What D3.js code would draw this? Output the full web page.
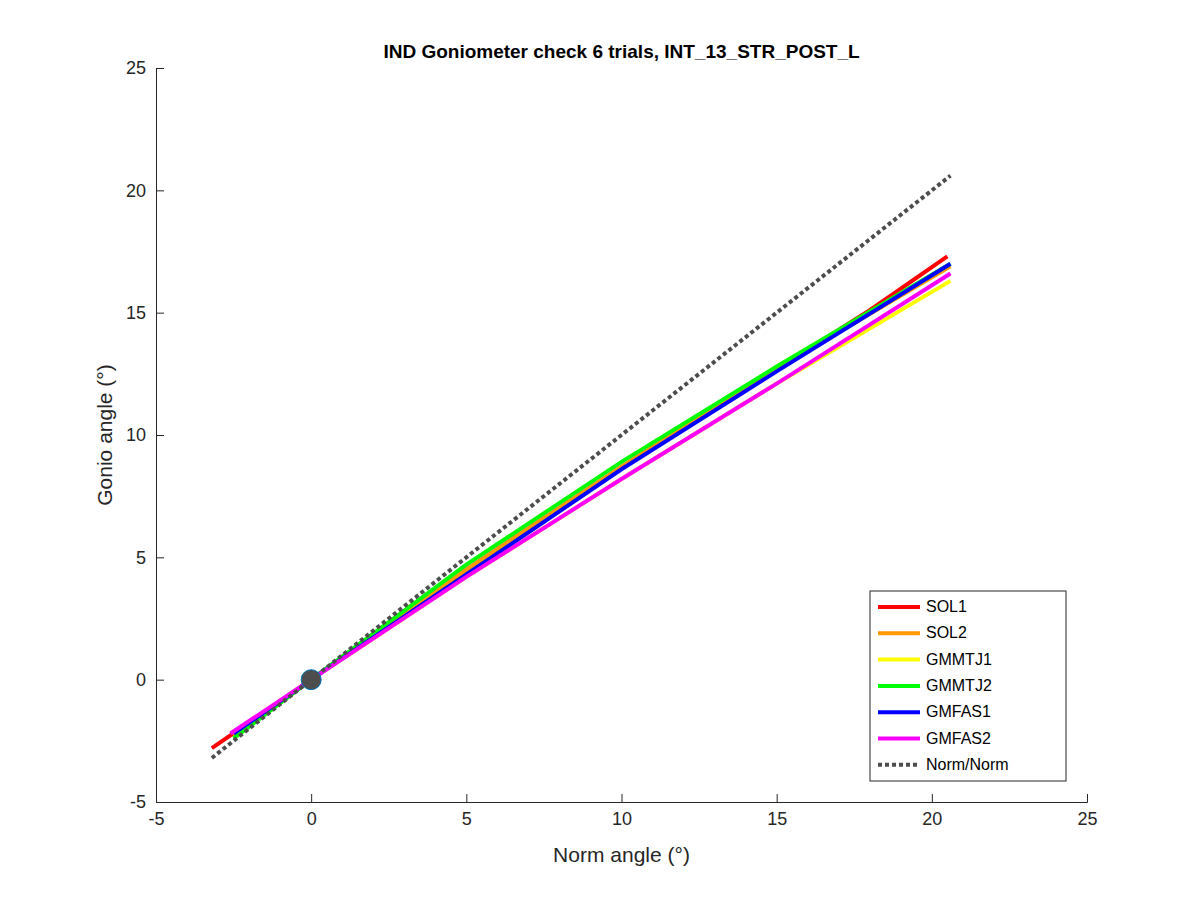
<!DOCTYPE html>
<html><head><meta charset="utf-8">
<script src="https://cdn.jsdelivr.net/npm/d3@7"></script>
<style>body{margin:0;background:#fff;font-family:Arial,"Liberation Sans",sans-serif;}</style>
</head><body><div id="chart"></div>
<script>
const seriesNames = ['SOL1', 'SOL2', 'GMMTJ1', 'GMMTJ2', 'GMFAS1', 'GMFAS2'];
const seriesColors = ['#ff0000', '#ff9900', '#ffff00', '#00ff00', '#0000ff', '#ff00ff'];
const sol1 = [[-3.2, -2.8], [0, 0], [5, 4.5], [10, 8.7], [15, 12.7], [18, 15.1], [20.5, 17.3]];
const sol2 = [[-2.5, -2.3], [0, 0], [5, 4.5], [10, 8.7], [15, 12.7], [20.6, 16.9]];
const gmmtj1 = [[-2.5, -2.2], [0, 0], [5, 4.2], [10, 8.2], [15, 12.1], [20.6, 16.3]];
const gmmtj2 = [[-2.5, -2.4], [0, 0], [5, 4.7], [10, 8.9], [15, 12.8], [20.6, 17.0]];
const gmfas1 = [[-2.5, -2.2], [0, 0], [5, 4.3], [10, 8.6], [15, 12.6], [20.6, 17.0]];
const gmfas2 = [[-2.6, -2.2], [0, 0], [5, 4.2], [10, 8.2], [15, 12.1], [20.6, 16.6]];
const normLine = [[-3.2, -3.2], [20.6, 20.6]];
const ticks = [-5, 0, 5, 10, 15, 20, 25];
const allSeries = [sol1, sol2, gmmtj1, gmmtj2, gmfas1, gmfas2];

const W = 1200, H = 900;
const m = {left: 156, right: 1087, top: 68, bottom: 802};
const svg = d3.select('#chart').append('svg').attr('width', W).attr('height', H);
const x = d3.scaleLinear().domain([-5, 25]).range([m.left, m.right]);
const y = d3.scaleLinear().domain([-5, 25]).range([m.bottom, m.top]);

const xAxis = svg.append('g').attr('transform', `translate(0,${m.bottom})`)
    .call(d3.axisBottom(x).tickValues(ticks).tickFormat(d => String(d)).tickSize(-8).tickPadding(10));
const yAxis = svg.append('g').attr('transform', `translate(${m.left},0)`)
    .call(d3.axisLeft(y).tickValues(ticks).tickFormat(d => String(d)).tickSize(-8).tickPadding(10));
[xAxis, yAxis].forEach(a => {
    a.selectAll('path,line').attr('stroke', '#262626');
    a.selectAll('text').attr('fill', '#262626').style('font-size', '18px');
});

const line = d3.line().x(d => x(d[0])).y(d => y(d[1]));
const g = svg.append('g');
allSeries.forEach((s, i) => {
    g.append('path').datum(s).attr('d', line).attr('fill', 'none')
        .attr('stroke', seriesColors[i]).attr('stroke-width', 4);
});
g.append('path').datum(normLine).attr('d', line).attr('fill', 'none')
    .attr('stroke', '#4d4d4d').attr('stroke-width', 4).attr('stroke-dasharray', '4,3');
g.append('circle').attr('cx', x(0)).attr('cy', y(0)).attr('r', 10)
    .attr('fill', '#4d4d4d').attr('stroke', '#0072bd').attr('stroke-width', 1);

svg.append('text').attr('x', (m.left + m.right) / 2).attr('y', 58).attr('text-anchor', 'middle')
    .style('font-size', '19px').style('font-weight', 'bold').attr('fill', '#000')
    .text('IND Goniometer check 6 trials, INT_13_STR_POST_L');
svg.append('text').attr('x', (m.left + m.right) / 2).attr('y', 862).attr('text-anchor', 'middle')
    .style('font-size', '21px').attr('fill', '#262626').text('Norm angle (°)');
svg.append('text').attr('transform', `translate(112,${(m.top + m.bottom) / 2}) rotate(-90)`)
    .attr('text-anchor', 'middle').style('font-size', '21px').attr('fill', '#262626').text('Gonio angle (°)');

const legNames = seriesNames.concat(['Norm/Norm']);
const legColors = seriesColors.concat(['#4d4d4d']);
const lg = svg.append('g').attr('transform', 'translate(870,591)');
lg.append('rect').attr('width', 196).attr('height', 190).attr('fill', '#fff').attr('stroke', '#262626');
legNames.forEach((n, i) => {
    const yy = 16 + i * 26.3;
    lg.append('line').attr('x1', 8).attr('x2', 50).attr('y1', yy).attr('y2', yy)
        .attr('stroke', legColors[i]).attr('stroke-width', 4)
        .attr('stroke-dasharray', i === 6 ? '4,3' : null);
    lg.append('text').attr('x', 56).attr('y', yy + 5).style('font-size', '16px').attr('fill', '#000').text(n);
});
</script></body></html>
